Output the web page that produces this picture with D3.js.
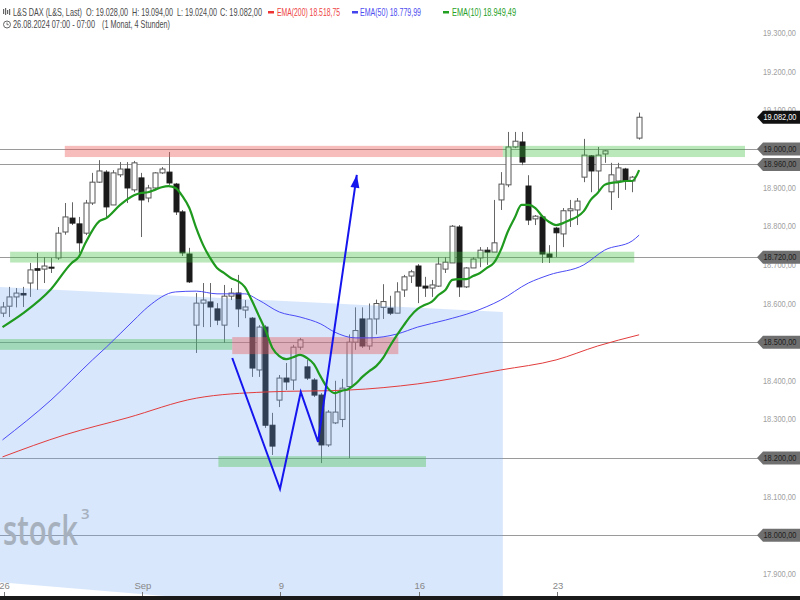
<!DOCTYPE html>
<html><head><meta charset="utf-8">
<script src="https://cdn.jsdelivr.net/npm/d3@7"></script>
<style>body{margin:0;background:#fff}svg{display:block;font-family:"Liberation Sans",Arial,sans-serif}</style>
</head><body>
<svg id="c" width="800" height="600"></svg>
<script>
// ---- data (4-hour candles, 26.08.2024 – 26.09.2024) ----
const opens  = [18575,18593,18617,18626,18653,18690,18689,18694,18718,18785,18821,18806,18782,18860,18914,18940,18855,18933,18948,18894,
                18925,18873,18899,18938,18940,18909,18837,18728,18544,18601,18604,18586,18544,18619,18627,18583,18562,18428,18539,18285,
                18350,18407,18402,18487,18436,18402,18363,18234,18291,18300,18385,18500,18560,18490,18560,18590,18588,18575,18635,18671,
                18697,18645,18640,18645,18689,18705,18798,18643,18692,18718,18738,18733,18868,18907,19005,19018,18904,18819,18824,18728,
                18795,18780,18840,18842,18927,18982,18943,18987,18889,18917,18948,18917,19028];
const highs  = [18604,18643,18640,18643,18705,18731,18720,18718,18798,18860,18862,18824,18868,18938,18971,18945,18945,18966,18966,18969,
                18938,18907,18940,18953,18992,18912,18842,18744,18627,18653,18653,18601,18648,18640,18674,18609,18565,18544,18544,18317,
                18415,18446,18493,18511,18454,18407,18368,18324,18400,18405,18520,18590,18590,18600,18610,18650,18620,18655,18674,18687,
                18702,18669,18661,18720,18720,18803,18803,18694,18720,18746,18746,18868,18940,19044,19044,19044,18932,18829,18829,18751,
                18798,18847,18868,18873,19026,18984,19005,18997,18964,18964,18951,18930,19094];
const lows   = [18565,18565,18590,18591,18617,18635,18653,18679,18713,18778,18803,18731,18777,18855,18912,18824,18855,18927,18860,18888,
                18772,18862,18894,18935,18907,18829,18723,18653,18472,18539,18539,18544,18498,18609,18539,18562,18410,18410,18278,18208,
                18332,18376,18376,18480,18402,18358,18187,18229,18288,18280,18200,18480,18485,18480,18520,18560,18570,18575,18617,18653,
                18601,18617,18617,18643,18679,18705,18617,18640,18692,18694,18700,18733,18842,18901,19002,18958,18803,18803,18705,18705,
                18720,18746,18798,18803,18914,18888,18886,18964,18842,18873,18894,18888,19024];
const closes = [18591,18617,18627,18622,18687,18686,18697,18692,18782,18824,18808,18757,18860,18914,18943,18850,18938,18948,18899,18964,
                18868,18899,18938,18948,18912,18837,18731,18656,18601,18609,18591,18557,18619,18627,18586,18591,18433,18539,18285,18231,
                18407,18397,18487,18506,18407,18363,18234,18319,18319,18381,18500,18530,18490,18560,18600,18605,18575,18630,18669,18682,
                18645,18640,18648,18702,18707,18800,18643,18692,18715,18738,18733,18757,18909,19005,19020,18966,18816,18826,18728,18720,
                18783,18840,18845,18865,18984,18943,18984,18995,18933,18951,18917,18927,19082];

const ema10Idx = [0,3,7,10,11,12,14,15,17,19,20,21,22,23,24,25,26,27,28,29,30,31,32,33,34,35,36,37,38,39,40,41,42,43,44,45,46,47,48,49,50,51,52,53,54,55,56,57,58,59,60,61,62,63,64,65,66,67,68,69,70,71,72,73,74,75,76,77,78,79,80,81,82,83,84,85,86,87,88,89,90,91,92];
const ema10Val = [18539,18575,18637,18705,18720,18757,18813,18821,18855,18880,18886,18888,18894,18901,18904,18899,18878,18847,18795,18751,18718,18692,18679,18666,18658,18643,18609,18570,18531,18485,18464,18456,18461,18467,18459,18443,18410,18381,18368,18374,18379,18392,18410,18425,18438,18459,18490,18518,18544,18568,18586,18596,18604,18622,18635,18661,18663,18663,18671,18679,18692,18705,18738,18785,18821,18855,18855,18847,18826,18811,18803,18808,18816,18824,18839,18868,18886,18907,18912,18914,18917,18917,18945];
const ema50Idx = [0,7,13,15,19,21,25,28,31,35,37,40,43,46,48,51,53,57,60,64,68,72,76,79,84,87,91,92];
const ema50Val = [18247,18350,18454,18487,18557,18591,18630,18632,18625,18625,18609,18578,18565,18547,18526,18511,18511,18521,18539,18557,18578,18609,18653,18674,18700,18738,18762,18777];
const ema200Idx = [0,9,18,28,38,50,60,72,80,86,92];
const ema200Val = [18203,18260,18304,18355,18371,18376,18392,18428,18454,18490,18519];

const levelPrices = [19000,18960,18720,18500,18200,18000];
const lastPrice = 19082;
const priceTicks = [19300,19200,19100,19000,18900,18800,18700,18600,18500,18400,18300,18200,18100,18000,17900];
const timeTickIdx = [0,20,40,60,80];
const timeTickLabels = ["26","Sep","9","16","23"];

// drawn zones
const zoneStart = [9,72.3,1.1,-1,33.2,31.2];
const zoneEnd   = [72.3,107.5,91.3,33.2,57.2,61.2];
const zoneLow   = [18979,18979,18706,18480,18469,18177];
const zoneHigh  = [19008,19008,18734,18508,18513,18205];
const zoneKind  = ["resist","support","support","support","resist","support"];

// shaded area (channel)
const areaIdx = [-0.4,72.3,72.3,38.7,-0.4];
const areaVal = [18643,18578,17820,17820,17879];

// drawn W pattern with arrow
const wIdx = [33.2,40.1,43.1,45.6,51.2];
const wVal = [18459,18120,18371,18242,18933];

// ---- chart ----
const svg = d3.select("#c");
const x = d3.scaleLinear().domain([0,80]).range([2.5,556.1]);
const y = d3.scaleLinear().domain([17900,19300]).range([574,33]);
const fmt = d3.formatLocale({decimal:",",thousands:".",grouping:[3],currency:["",""]}).format(",.2f");
const W = 745;

svg.append("defs").append("clipPath").attr("id","plot").append("rect").attr("x",0).attr("y",0).attr("width",W).attr("height",596);
const g = svg.append("g").attr("clip-path","url(#plot)");

// horizontal level lines
g.selectAll("line.lv").data(levelPrices).join("line")
  .attr("x1",0).attr("x2",W).attr("y1",d=>Math.round(y(d))+0.5).attr("y2",d=>Math.round(y(d))+0.5)
  .attr("stroke","#9a9a9a").attr("stroke-width",1);

// candles
const candles = opens.map((o,i)=>({i,o,h:highs[i],l:lows[i],c:closes[i]}));
const cg = g.append("g");
cg.selectAll("line.wick").data(candles).join("line")
  .attr("x1",d=>Math.round(x(d.i))+0.5).attr("x2",d=>Math.round(x(d.i))+0.5)
  .attr("y1",d=>y(d.h)).attr("y2",d=>y(d.l)).attr("stroke","#666").attr("stroke-width",1);
cg.selectAll("rect.body").data(candles).join("rect")
  .attr("x",d=>Math.round(x(d.i))-2).attr("width",5)
  .attr("y",d=>y(Math.max(d.o,d.c))).attr("height",d=>Math.max(1,Math.abs(y(d.o)-y(d.c))))
  .attr("fill",d=>d.c>=d.o?"#fff":"#1a1a1a").attr("stroke",d=>d.c>=d.o?"#555":"#1a1a1a").attr("stroke-width",1);

// shaded channel area (over candles, translucent)
g.append("path").attr("d",d3.line()(areaIdx.map((d,i)=>[x(d),y(areaVal[i])]))+"Z")
  .attr("fill","rgb(112,168,243)").attr("fill-opacity",0.27);

// zones
g.selectAll("rect.zone").data(zoneStart).join("rect")
  .attr("x",(d,i)=>x(d)).attr("width",(d,i)=>x(zoneEnd[i])-x(d))
  .attr("y",(d,i)=>y(zoneHigh[i])).attr("height",(d,i)=>y(zoneLow[i])-y(zoneHigh[i]))
  .attr("fill",(d,i)=>zoneKind[i]==="resist"?"rgb(235,90,90)":"rgb(60,190,60)")
  .attr("fill-opacity",(d,i)=>zoneKind[i]==="resist"?0.4:0.35);

// EMA lines
const ln = d3.line().curve(d3.curveMonotoneX);
g.append("path").attr("d",ln(ema200Idx.map((d,i)=>[x(d),y(ema200Val[i])]))).attr("fill","none").attr("stroke","#e23c3c").attr("stroke-width",1);
g.append("path").attr("d",ln(ema50Idx.map((d,i)=>[x(d),y(ema50Val[i])]))).attr("fill","none").attr("stroke","#4b4bf5").attr("stroke-width",1);
g.append("path").attr("d",ln(ema10Idx.map((d,i)=>[x(d),y(ema10Val[i])]))).attr("fill","none").attr("stroke","#1f9a1f").attr("stroke-width",2.2);

// W pattern + arrow
const wp = wIdx.map((d,i)=>[x(d),y(wVal[i])]);
g.append("path").attr("d",d3.line()(wp)).attr("fill","none").attr("stroke","#1515ee").attr("stroke-width",2).attr("stroke-linejoin","miter");
{
  const [x1,y1]=wp[wp.length-2],[x2,y2]=wp[wp.length-1];
  const a=Math.atan2(y2-y1,x2-x1), L=13, Wd=4.5;
  const bx=x2-L*Math.cos(a), by=y2-L*Math.sin(a);
  const px=-Math.sin(a)*Wd, py=Math.cos(a)*Wd;
  g.append("path").attr("d",`M${x2},${y2}L${bx+px},${by+py}L${bx-px},${by-py}Z`).attr("fill","#1515ee");
}

// watermark
g.append("text").attr("x",3).attr("y",545).attr("fill","#a7b1be")
  .style("font-size","42px").style("font-weight","600").style("font-family","'Open Sans',sans-serif")
  .attr("textLength",75).attr("lengthAdjust","spacingAndGlyphs").text("stock");
g.append("text").attr("x",81).attr("y",519).attr("fill","#a7b1be").style("font-size","15px").style("font-weight","600")
  .style("font-family","'Open Sans',sans-serif").text("3");

// right axis tick labels
svg.selectAll("text.pt").data(priceTicks).join("text")
  .attr("x",796).attr("y",d=>y(d)+3).attr("text-anchor","end").attr("fill","#a0a0a0")
  .style("font-size","8.5px").attr("textLength",33).attr("lengthAdjust","spacingAndGlyphs").text(d=>fmt(d));

// level lines into labels
svg.selectAll("line.lv2").data(levelPrices).join("line")
  .attr("x1",W).attr("x2",758).attr("y1",d=>Math.round(y(d))+0.5).attr("y2",d=>Math.round(y(d))+0.5)
  .attr("stroke","#9a9a9a");
function tag(v,fill,tc){
  const yc=y(v);
  svg.append("path").attr("d",`M757,${yc}L763,${yc-6.5}L800,${yc-6.5}L800,${yc+6.5}L763,${yc+6.5}Z`).attr("fill",fill);
  svg.append("text").attr("x",763.5).attr("y",yc+3).attr("fill",tc).style("font-size","8.5px")
    .attr("textLength",33).attr("lengthAdjust","spacingAndGlyphs").text(fmt(v));
}
levelPrices.forEach(v=>tag(v,"#6f6f6f","#1e1e1e"));
tag(lastPrice,"#111","#fff");

// time axis
svg.append("rect").attr("x",0).attr("y",596).attr("width",800).attr("height",4).attr("fill","#1a1a1a");
svg.selectAll("line.tt").data(timeTickIdx).join("line")
  .attr("x1",d=>Math.round(x(d))+1.5).attr("x2",d=>Math.round(x(d))+1.5).attr("y1",592).attr("y2",596).attr("stroke","#777");
svg.selectAll("text.tt").data(timeTickIdx).join("text")
  .attr("x",d=>x(d)+2).attr("y",589).attr("text-anchor","middle").attr("fill","#888").style("font-size","9.5px")
  .text((d,i)=>timeTickLabels[i]);

// header
function ht(xp,yp,s,w,col){
  svg.append("text").attr("x",xp).attr("y",yp).attr("fill",col).style("font-size","10.5px")
    .attr("textLength",w).attr("lengthAdjust","spacingAndGlyphs").text(s);
}
const hc="#4a4a4a";
ht(13,16,"L&S DAX (L&S, Last)",69,hc);
ht(86,16,"O: 19.028,00",42,hc);
ht(132,16,"H: 19.094,00",41,hc);
ht(177,16,"L: 19.024,00",40,hc);
ht(220,16,"C: 19.082,00",42,hc);
svg.append("rect").attr("x",268).attr("y",11).attr("width",6).attr("height",2.5).attr("fill","#ee3333");
ht(277,16,"EMA(200)  "+fmt(18518.75),63,"#ee4444");
svg.append("rect").attr("x",352).attr("y",11).attr("width",6).attr("height",2.5).attr("fill","#4444ee");
ht(360,16,"EMA(50)  18.779,99",61,"#4d4df0");
svg.append("rect").attr("x",443).attr("y",11).attr("width",6).attr("height",2.5).attr("fill","#22a022");
ht(452,16,"EMA(10)  18.949,49",64,"#28a028");
// icon
[[3,9,5],[5,8,7],[7,10,4],[9,9,6]].forEach(([ix,iy,ih])=>svg.append("rect").attr("x",ix).attr("y",iy).attr("width",1.2).attr("height",ih).attr("fill","#666"));
// line 2
svg.append("circle").attr("cx",7).attr("cy",24.5).attr("r",3.5).attr("fill","none").attr("stroke","#666").attr("stroke-width",1);
svg.append("path").attr("d","M7,22.5V24.7H8.7").attr("fill","none").attr("stroke","#666").attr("stroke-width",0.9);
ht(13,28,"26.08.2024 07:00 - 07:00",82,hc);
ht(102,28,"(1 Monat, 4 Stunden)",68,hc);
</script>
</body></html>
